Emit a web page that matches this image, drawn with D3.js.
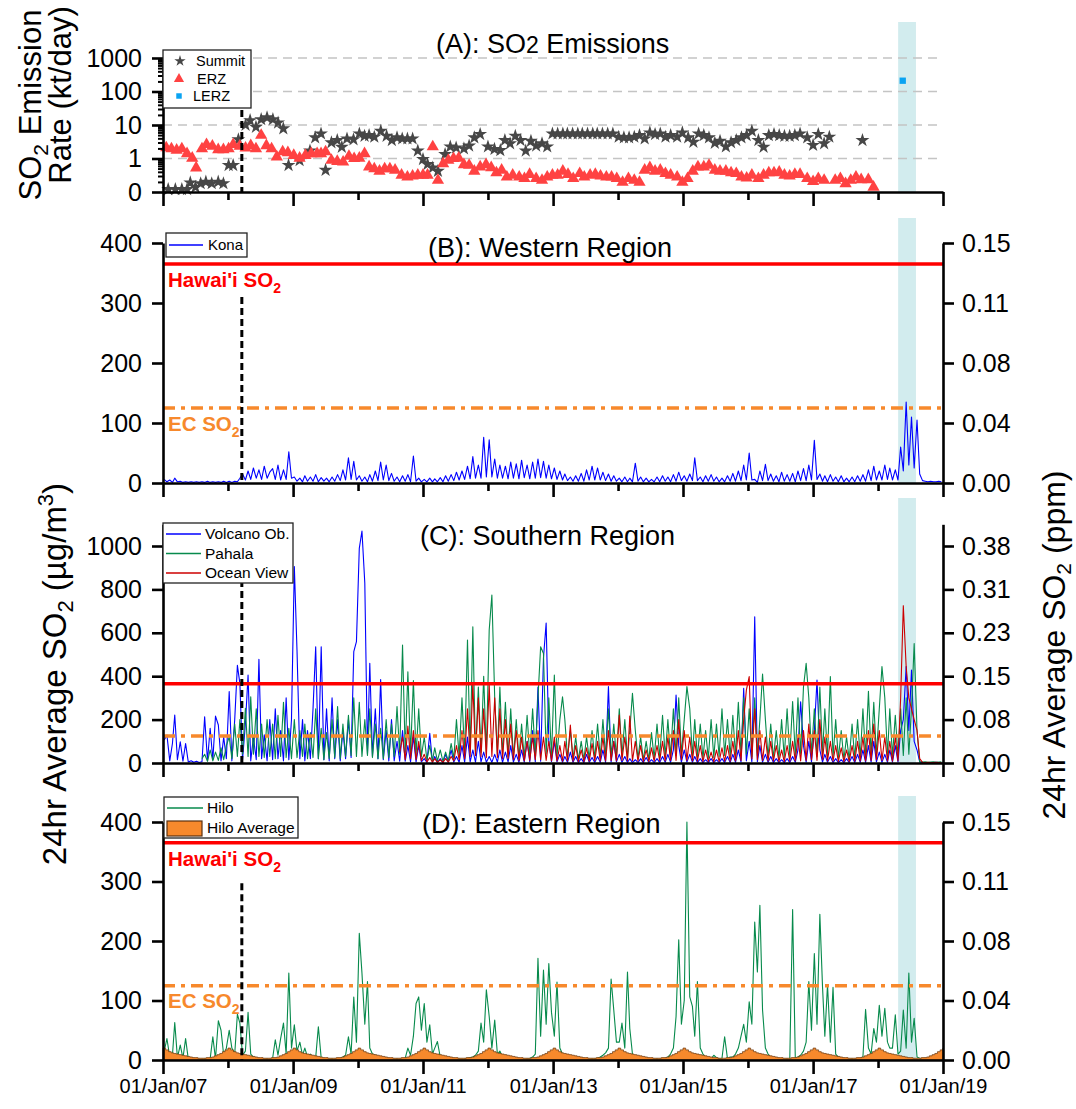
<!DOCTYPE html>
<html><head><meta charset="utf-8">
<script src="https://cdn.jsdelivr.net/npm/d3@7"></script>
<style>
body{margin:0;background:#fff}
text{font-family:"Liberation Sans",Arial,sans-serif}
</style></head>
<body><svg id="chart" width="1076" height="1109"></svg>
<script>
// ---------------- DATA ----------------
const xTickYears = [2007,2008,2009,2010,2011,2012,2013,2014,2015,2016,2017,2018,2019];
const xTickLabels = ["01/Jan/07","","01/Jan/09","","01/Jan/11","","01/Jan/13","","01/Jan/15","","01/Jan/17","","01/Jan/19"];
const emissionTicks = [0.1,1,10,100,1000];
const emissionLabels = ["0","1","10","100","1000"];
const conc400Ticks = [0,100,200,300,400];
const ppm400Labels = ["0.00","0.04","0.08","0.11","0.15"];
const conc1000Ticks = [0,200,400,600,800,1000];
const ppm1000Labels = ["0.00","0.08","0.15","0.23","0.31","0.38"];
const hawaiiStandard = 365;
const ecStandard = 125;
const eruptionStart = "2008-03-19";
const lerzPeriod = ["2018-04-24","2018-08-02"];

// Panel A: [decimal year, kt/day]
const summit = [[2007.08,0.12],[2007.19,0.12],[2007.29,0.12],[2007.37,0.12],[2007.42,0.19],[2007.50,0.14],[2007.58,0.18],[2007.66,0.2],[2007.75,0.18],[2007.85,0.2],[2007.93,0.18],
[2008.01,0.63],[2008.08,0.63],[2008.16,3.7],[2008.27,10],[2008.34,13.7],[2008.43,8.7],[2008.51,14.7],[2008.60,16.6],[2008.69,14.7],[2008.77,11.7],[2008.85,7.8],[2008.93,0.63],
[2009.10,0.88],[2009.26,1.7],[2009.34,4.2],[2009.43,5.5],[2009.50,0.45],[2009.59,3.0],[2009.68,3.5],[2009.75,2.2],[2009.83,3.9],[2009.93,3.7],
[2010.02,5.5],[2010.10,4.7],[2010.17,4.9],[2010.25,4.4],[2010.35,6.6],[2010.44,4.7],[2010.52,3.5],[2010.60,4.2],[2010.68,3.9],[2010.76,3.9],[2010.84,3.9],[2010.92,1.7],
[2011.00,0.95],[2011.07,0.67],[2011.15,0.53],[2011.23,0.42],[2011.34,1.33],[2011.42,2.25],[2011.51,2.1],[2011.63,1.97],[2011.71,2.4],[2011.79,4.2],[2011.88,5.3],
[2012.00,2.25],[2012.10,1.9],[2012.19,1.75],[2012.26,3.5],[2012.34,2.8],[2012.42,4.7],[2012.50,3.5],[2012.58,1.7],[2012.66,3.3],[2012.74,2.4],[2012.83,2.8],[2012.91,2.25],[2012.99,5.5],
[2013.07,5.5],[2013.15,5.5],[2013.22,5.5],[2013.30,5.5],[2013.38,5.5],[2013.45,5.5],[2013.53,5.5],[2013.61,5.5],[2013.68,5.5],[2013.76,5.5],[2013.84,5.5],[2013.92,5.5],
[2014.01,4.4],[2014.09,4.2],[2014.17,4.2],[2014.25,4.4],[2014.33,4.9],[2014.41,3.9],[2014.49,5.9],[2014.57,5.3],[2014.65,5.5],[2014.73,4.4],[2014.81,4.9],[2014.91,4.4],[2014.99,5.9],
[2015.08,4.2],[2015.16,3.1],[2015.24,5.5],[2015.32,4.9],[2015.40,4.2],[2015.49,2.9],[2015.57,3.3],[2015.66,2.25],[2015.74,3.0],[2015.82,3.5],[2015.90,4.2],[2015.98,4.9],
[2016.06,6.6],[2016.16,3.5],[2016.24,2.2],[2016.32,4.9],[2016.40,5.3],[2016.48,4.9],[2016.56,4.7],[2016.64,4.7],[2016.72,4.9],[2016.80,5.5],[2016.91,4.2],
[2017.00,2.5],[2017.08,5.3],[2017.17,2.8],[2017.25,4.4],[2017.76,3.5]];
const erz = [[2007.05,2.25],[2007.13,2.1],[2007.21,1.9],[2007.29,2.1],[2007.37,1.5],[2007.45,1.1],[2007.51,0.56],[2007.60,2.1],[2007.67,2.8],[2007.76,2.5],[2007.85,1.97],[2007.93,1.97],
[2008.01,2.1],[2008.08,2.8],[2008.18,2.5],[2008.27,2.2],[2008.35,2.6],[2008.43,2.1],[2008.51,5.3],[2008.59,2.6],[2008.67,2.1],[2008.75,1.2],[2008.84,1.7],[2008.92,1.6],
[2009.01,1.33],[2009.10,1.1],[2009.19,1.33],[2009.28,1.5],[2009.37,1.5],[2009.43,1.5],[2009.50,1.7],[2009.59,0.95],[2009.68,0.88],[2009.77,0.84],[2009.86,1.25],[2009.94,1.07],
[2010.02,1.1],[2010.10,1.5],[2010.17,0.6],[2010.25,0.53],[2010.33,0.45],[2010.41,0.53],[2010.49,0.53],[2010.57,0.48],[2010.67,0.34],[2010.76,0.3],[2010.84,0.32],[2010.92,0.34],
[2011.00,0.34],[2011.07,0.34],[2011.15,2.4],[2011.23,0.24],[2011.31,0.75],[2011.39,0.95],[2011.47,1.07],[2011.55,1.1],[2011.63,0.7],[2011.71,0.67],[2011.79,0.45],[2011.88,0.6],[2011.97,0.7],
[2012.05,0.57],[2012.13,0.4],[2012.21,0.48],[2012.29,0.3],[2012.38,0.34],[2012.48,0.3],[2012.56,0.27],[2012.64,0.36],[2012.74,0.27],[2012.83,0.24],[2012.91,0.3],[2012.99,0.34],
[2013.07,0.34],[2013.15,0.45],[2013.23,0.36],[2013.31,0.27],[2013.41,0.38],[2013.48,0.3],[2013.57,0.34],[2013.65,0.36],[2013.73,0.32],[2013.82,0.3],[2013.90,0.3],[2013.98,0.27],
[2014.07,0.21],[2014.16,0.27],[2014.25,0.24],[2014.33,0.21],[2014.41,0.48],[2014.49,0.57],[2014.57,0.45],[2014.65,0.48],[2014.73,0.38],[2014.81,0.34],[2014.91,0.3],[2014.99,0.21],
[2015.07,0.27],[2015.15,0.45],[2015.23,0.6],[2015.32,0.6],[2015.40,0.67],[2015.49,0.48],[2015.57,0.45],[2015.66,0.45],[2015.74,0.4],[2015.82,0.38],[2015.90,0.3],[2015.98,0.28],
[2016.06,0.34],[2016.16,0.27],[2016.24,0.34],[2016.32,0.4],[2016.40,0.4],[2016.48,0.42],[2016.56,0.34],[2016.64,0.32],[2016.72,0.36],[2016.80,0.36],[2016.91,0.27],
[2017.00,0.22],[2017.08,0.27],[2017.17,0.24],[2017.34,0.24],[2017.42,0.27],[2017.50,0.19],[2017.58,0.24],[2017.66,0.3],[2017.74,0.25],[2017.85,0.25],[2017.93,0.15]];
const lerz = [[2018.38,210]];

// Panels B-D: semi-monthly 24hr SO2 (ug/m3) peaks/troughs, one row per year
const konaStart = 2007;
const kona = [
[6,2,5,1,8,2,3,1,2,1,2,1,2,1,2,1,3,1,2,1,2,1,3,1],
[3,1,3,2,8,15,5,20,6,25,8,22,6,28,8,18,24,6,30,5,22,6,52,8],
[10,3,8,2,12,3,10,3,14,2,9,3,8,2,10,3,14,4,22,5,42,6,36,5],
[12,3,10,2,14,3,20,4,35,5,30,4,16,3,10,2,12,3,14,2,45,3,8,2],
[6,2,8,2,7,2,9,2,12,3,14,4,18,5,20,6,28,7,44,8,30,8,76,10],
[72,10,40,8,30,8,28,7,35,8,32,7,38,9,30,7,35,8,40,9,36,8,30,7],
[25,6,20,5,15,4,10,3,12,3,16,3,22,5,28,5,25,5,18,4,15,3,12,3],
[8,2,10,2,8,2,33,3,10,2,8,2,6,2,10,2,12,3,10,2,14,3,18,4],
[12,3,15,4,42,4,10,2,12,3,14,3,10,2,8,2,12,3,16,3,20,4,30,5],
[50,5,6,1,20,4,31,4,15,3,12,2,18,3,14,3,16,2,20,4,24,4,30,5],
[71,6,15,3,12,2,14,3,10,2,12,2,8,2,10,2,12,3,14,3,22,4,28,5],
[20,5,30,6,25,5,22,5,60,20,135,30,110,25,105,15,4,3,2,3,2,2,3,2]];

const volcanoObStart = 2007;
const volcanoOb = [
[106,129,10,90,221,15,98,8,90,5,10,3,8,2,6,213,10,160,15,216,175,10,120,20],
[329,10,200,450,367,15,180,405,10,120,15,478,20,130,10,200,15,250,20,150,10,300,15,200],
[905,520,20,200,10,150,20,250,536,20,536,15,250,10,300,20,200,10,150,20,200,25,513,559],
[989,1069,828,40,460,30,250,20,385,15,150,10,200,10,100,8,150,8,80,5,120,5,80,5],
[20,3,137,4,30,3,20,2,40,3,60,4,30,3,80,4,120,5,60,4,100,5,50,4],
[30,3,40,4,60,3,50,5,80,4,40,3,60,4,100,5,150,6,350,8,485,645,100,6],
[100,5,40,3,30,3,50,3,30,2,20,2,40,3,25,2,30,3,60,3,352,4,100,5],
[40,3,30,2,20,2,15,2,20,2,25,2,15,2,20,2,30,3,40,3,60,313,80,4],
[60,4,40,3,30,2,20,2,15,2,20,2,15,2,20,2,30,2,40,3,60,4,344,10],
[100,5,674,6,80,4,40,3,30,2,20,2,15,2,20,2,30,3,60,282,80,4,100,5],
[150,382,60,4,40,3,30,2,20,2,15,2,20,2,30,2,40,3,60,3,80,4,100,5],
[50,3,40,3,60,4,80,5,150,200,444,150,428,100,60,5,3,2,2,2,2,3,2,2]];

const pahalaStart = 2007;
const pahala = [
[null,null,null,null,null,null,null,null,null,null,null,null,null,null,20,40,8,60,10,50,12,70,15,80],
[120,20,180,30,200,40,252,30,305,40,250,30,180,25,200,30,180,20,220,30,280,25,160,20],
[200,25,150,30,180,20,140,25,250,20,160,15,140,20,200,25,260,20,180,30,220,35,300,30],
[280,30,200,35,250,25,180,20,160,20,200,25,180,30,260,40,544,50,420,40,380,35,250,30],
[120,15,80,10,70,10,60,8,50,10,90,20,200,30,300,40,567,50,628,40,350,50,400,40],
[613,774,300,40,350,35,280,30,250,25,200,20,180,20,220,30,250,35,300,536,505,40,300,30],
[405,30,200,305,200,25,150,20,120,15,100,15,120,20,150,20,180,25,200,30,250,30,180,25],
[250,30,200,20,150,321,150,20,120,15,100,15,140,20,180,25,220,30,200,30,250,35,300,40],
[200,352,250,30,200,25,180,20,150,20,200,25,180,30,250,35,200,30,220,35,280,40,300,40],
[250,30,300,35,200,410,200,25,180,20,150,20,200,25,250,30,283,35,300,40,350,459,300,40],
[250,30,350,40,250,30,398,25,200,20,150,15,120,15,180,20,200,25,250,30,330,35,280,35],
[250,444,300,35,250,30,220,30,250,35,300,40,250,551,150,5,4,5,3,4,5,3,4,5]];

const oceanViewStart = 2010;
const oceanView = [
[null,null,null,null,null,null,null,null,null,null,null,null,null,null,null,50,120,15,170,20,150,15,100,10],
[40,5,25,4,20,3,15,3,20,4,30,10,80,15,150,20,250,30,367,35,300,30,250,25],
[360,30,300,25,250,20,200,20,180,15,150,12,120,10,100,12,120,15,150,15,120,12,100,10],
[120,10,80,8,100,10,175,8,80,6,60,6,70,8,90,10,100,10,120,10,150,12,100,10],
[221,12,120,10,216,10,100,8,80,6,60,6,70,8,80,10,100,10,120,12,150,12,200,15],
[150,12,120,10,100,8,80,6,60,6,50,5,60,6,70,8,80,8,100,10,150,12,200,336],
[398,20,250,15,150,12,120,10,100,8,80,6,60,6,80,8,100,10,120,10,150,12,180,15],
[150,12,200,15,120,10,100,8,80,6,70,6,60,6,80,8,100,10,120,10,150,12,180,15],
[150,12,120,10,100,8,120,10,300,725,444,300,250,200,150,20,3,2,3,2,2,3,2,2]];

const hiloStart = 2007;
const hilo = [
[15,36,5,8,63,4,25,3,36,2,3,1,2,1,1,2,1,2,39,2,66,50,8,20],
[50,20,10,77,62,8,15,80,10,5,3,2,1,1,2,1,3,34,8,36,62,10,146,20],
[59,15,30,8,20,5,10,3,4,56,3,2,1,1,2,1,2,3,5,8,39,10,106,30],
[213,146,60,132,20,10,8,5,4,3,2,2,1,1,2,1,2,3,20,8,40,95,106,50],
[95,30,59,10,20,31,5,3,2,2,1,1,1,2,1,2,3,4,5,8,15,62,30,118],
[73,20,67,10,15,5,8,3,2,2,1,1,2,1,2,3,5,10,171,40,151,60,162,80],
[40,131,20,10,5,3,2,2,1,1,1,2,1,1,2,2,3,5,8,12,20,136,84,30],
[30,62,20,148,53,10,5,4,3,2,2,1,1,1,2,1,2,3,5,10,20,73,202,60],
[100,400,106,90,40,132,20,10,5,3,2,8,4,2,3,39,2,5,5,10,20,40,60,30],
[98,60,232,148,260,84,20,10,5,3,2,2,1,1,2,1,253,3,5,8,15,30,132,50],
[179,60,245,123,40,126,30,122,10,5,3,2,1,1,2,1,2,3,5,85,20,10,53,30],
[92,40,87,30,20,20,76,10,15,84,20,146,30,70,5,3,2,3,2,3,3,4,5,6]];
// Hilo multi-year semi-monthly average (seasonal climatology), drawn for each year
const hiloAverageSeason = [20,17,14,12,11,10,9,8,7,6,5,4,4,3,3,3,4,4,5,7,9,11,14,17];
const hiloAverageYears = [2007,2008,2009,2010,2011,2012,2013,2014,2015,2016,2017,2018];

// ---------------- HELPERS ----------------
const svg = d3.select("#chart");
const FONT = '"Liberation Sans",Arial,sans-serif';
const decYear = v => { const y = Math.floor(v); const s = new Date(y,0,1), e = new Date(y+1,0,1); return new Date(+s + (v-y)*(e-s)); };
const semiMonthly = (rows, start) => {
  const out = [];
  rows.forEach((row,k) => row.forEach((v,i) => out.push({date: new Date(start+k, i>>1, i%2 ? 23 : 8), v})));
  return out;
};
const x = d3.scaleTime().domain([new Date(2007,0,1), new Date(2019,0,1)]).range([163, 943]);

const COL = {band:"#d2ecee", red:"#ff0000", orange:"#f7892c", blue:"#0000ff", green:"#078a4c", dred:"#cc0000", grid:"#c4c4c4"};

function band(top, bottom){
  svg.append("rect").attr("x", x(new Date(lerzPeriod[0]))).attr("y", top)
    .attr("width", x(new Date(lerzPeriod[1])) - x(new Date(lerzPeriod[0]))).attr("height", bottom - top)
    .attr("fill", COL.band);
}
function xAxis(yPos, labels){
  const ax = d3.axisBottom(x).tickValues(xTickYears.map(y => new Date(y,0,1)))
    .tickSize(14).tickSizeOuter(0).tickPadding(5)
    .tickFormat((d,i) => labels ? xTickLabels[i] : "");
  const g = svg.append("g").attr("transform", `translate(0,${yPos})`).call(ax);
  g.select(".domain").attr("stroke-width", 2.6);
  g.selectAll(".tick line").attr("stroke-width", 2.6).attr("y2", (d,i) => i % 2 ? 8 : 14);
  g.selectAll(".tick text").attr("font-size", 20).attr("font-family", FONT).attr("fill","#000");
}
function yLeft(y, ticks, labels){
  const g = svg.append("g").attr("transform", "translate(163,0)")
    .call(d3.axisLeft(y).tickValues(ticks).tickSize(11).tickPadding(10).tickSizeOuter(0).tickFormat((d,i) => labels[i]));
  g.select(".domain").attr("stroke-width", 2.6);
  g.selectAll(".tick line").attr("stroke-width", 2.6);
  g.selectAll(".tick text").attr("font-size", 25).attr("font-family", FONT).attr("fill","#000");
  return g;
}
function yRight(y, ticks, labels){
  const g = svg.append("g").attr("transform", "translate(943,0)")
    .call(d3.axisRight(y).tickValues(ticks).tickSize(11).tickPadding(8).tickSizeOuter(0).tickFormat((d,i) => labels[i]));
  g.select(".domain").attr("stroke-width", 2.6);
  g.selectAll(".tick line").attr("stroke-width", 2.6);
  g.selectAll(".tick text").attr("font-size", 25).attr("font-family", FONT).attr("fill","#000");
}
function standards(y, withText, hawaiiBase, ecBase){
  svg.append("line").attr("x1",163).attr("x2",943).attr("y1",y(hawaiiStandard)).attr("y2",y(hawaiiStandard))
    .attr("stroke",COL.red).attr("stroke-width",3.5);
  svg.append("line").attr("x1",163).attr("x2",943).attr("y1",y(ecStandard)).attr("y2",y(ecStandard))
    .attr("stroke",COL.orange).attr("stroke-width",3.5).attr("stroke-dasharray","12,6,4,6");
  if(withText){
    const t1 = svg.append("text").attr("x",168).attr("y",hawaiiBase).attr("font-size",20.5).attr("font-weight","bold").attr("fill",COL.red);
    t1.append("tspan").text("Hawai'i SO");
    t1.append("tspan").attr("dy",6).attr("font-size",14).text("2");
    const t2 = svg.append("text").attr("x",168).attr("y",ecBase).attr("font-size",20.5).attr("font-weight","bold").attr("fill",COL.orange);
    t2.append("tspan").text("EC SO");
    t2.append("tspan").attr("dy",6).attr("font-size",14).text("2");
  }
}
function eruptionLine(y, top, bottom){
  const xe = x(new Date(eruptionStart));
  svg.append("line").attr("x1",xe).attr("x2",xe).attr("y1",y(top)).attr("y2",y(bottom))
    .attr("stroke","#000").attr("stroke-width",3).attr("stroke-dasharray","7,4");
}
function title(tx, ty, parts){
  const t = svg.append("text").attr("x",tx).attr("y",ty).attr("font-size",27).attr("fill","#000");
  parts.forEach(p => t.append("tspan").attr("font-size", p[1] || 27).text(p[0]));
}
function drawLine(data, y, color, width){
  svg.append("path").datum(data).attr("fill","none").attr("stroke",color).attr("stroke-width",width||1)
    .attr("stroke-linejoin","round")
    .attr("d", d3.line().defined(d => d.v != null).x(d => x(d.date)).y(d => y(d.v)));
}
function legendBox(x0,y0,w,h){
  svg.append("rect").attr("x",x0).attr("y",y0).attr("width",w).attr("height",h)
    .attr("fill","#fff").attr("stroke","#222").attr("stroke-width",1.3);
}
function legendText(tx,ty,str,size){
  svg.append("text").attr("x",tx).attr("y",ty).attr("dy","0.35em").attr("font-size",size||15.5).attr("fill","#000").text(str);
}

// ---------------- PANEL A ----------------
const yA = d3.scaleLog().domain([0.1,1000]).range([192,58]);
band(22,192);
[1,10,100,1000].forEach(v => svg.append("line").attr("x1",163).attr("x2",943).attr("y1",yA(v)).attr("y2",yA(v))
  .attr("stroke",COL.grid).attr("stroke-width",1.5).attr("stroke-dasharray","9,6"));
svg.append("g").selectAll("path.summit").data(summit).join("path")
  .attr("transform", d => `translate(${x(decYear(d[0]))},${yA(d[1])})`)
  .attr("d", d3.symbol().type(d3.symbolStar).size(60)).attr("fill","#474747");
svg.append("g").selectAll("path.erz").data(erz).join("path")
  .attr("transform", d => `translate(${x(decYear(d[0]))},${yA(d[1])+1})`)
  .attr("d", d3.symbol().type(d3.symbolTriangle).size(65)).attr("fill","#ff4242");
svg.append("g").selectAll("path.lerz").data(lerz).join("path")
  .attr("transform", d => `translate(${x(decYear(d[0]))},${yA(d[1])})`)
  .attr("d", d3.symbol().type(d3.symbolSquare).size(40)).attr("fill","#0aa3f2");
eruptionLine(yA, 28, 0.1);
const minorA = [];
[0.1,1,10,100].forEach(b => d3.range(2,10).forEach(m => minorA.push(b*m)));
svg.append("g").attr("transform","translate(163,0)")
  .call(d3.axisLeft(yA).tickValues(minorA).tickSize(5).tickFormat("").tickSizeOuter(0))
  .call(g => { g.select(".domain").remove(); g.selectAll(".tick line").attr("stroke-width",2); });
yLeft(yA, emissionTicks, emissionLabels);
xAxis(192, false);
title(436, 53, [["(A): SO"],["2",23],[" Emissions"]]);
legendBox(163,50,88,58);
svg.append("path").attr("transform","translate(180,61)").attr("d",d3.symbol().type(d3.symbolStar).size(40)).attr("fill","#474747");
legendText(196,61,"Summit",14.5);
svg.append("path").attr("transform","translate(179,79)").attr("d",d3.symbol().type(d3.symbolTriangle).size(45)).attr("fill","#ff4242");
legendText(197,79,"ERZ",14.5);
svg.append("path").attr("transform","translate(179,96)").attr("d",d3.symbol().type(d3.symbolSquare).size(30)).attr("fill","#0aa3f2");
legendText(193,96,"LERZ",14.5);

// ---------------- PANEL B ----------------
const yB = d3.scaleLinear().domain([0,400]).range([483,243]);
band(218,483);
drawLine(semiMonthly(kona, konaStart), yB, COL.blue, 1.1);
standards(yB, true, 287, 431);
eruptionLine(yB, 310, 0);
yLeft(yB, conc400Ticks, conc400Ticks.map(String));
yRight(yB, conc400Ticks, ppm400Labels);
xAxis(483, false);
title(428, 257, [["(B): Western Region"]]);
legendBox(166,233,81,24);
svg.append("line").attr("x1",169).attr("x2",203).attr("y1",245).attr("y2",245).attr("stroke",COL.blue).attr("stroke-width",1.3);
legendText(208,245,"Kona",15);

// ---------------- PANEL C ----------------
const yC = d3.scaleLinear().domain([0,1100]).range([763,524.3]);
band(498,763);
drawLine(semiMonthly(volcanoOb, volcanoObStart), yC, COL.blue, 1.1);
drawLine(semiMonthly(pahala, pahalaStart), yC, COL.green, 1.1);
drawLine(semiMonthly(oceanView, oceanViewStart), yC, COL.dred, 1.1);
standards(yC, false);
eruptionLine(yC, 843, 0);
yLeft(yC, conc1000Ticks, conc1000Ticks.map(String));
yRight(yC, conc1000Ticks, ppm1000Labels);
xAxis(763, false);
title(420, 545, [["(C): Southern Region"]]);
legendBox(163,523,130,60);
[["Volcano Ob.",COL.blue],["Pahala",COL.green],["Ocean View",COL.dred]].forEach((e,i) => {
  const yy = 534 + i*19.5;
  svg.append("line").attr("x1",166).attr("x2",201).attr("y1",yy).attr("y2",yy).attr("stroke",e[1]).attr("stroke-width",1.3);
  legendText(205,yy,e[0],15.5);
});

// ---------------- PANEL D ----------------
const yD = d3.scaleLinear().domain([0,400]).range([1060,822]);
band(796,1060);
drawLine(semiMonthly(hilo, hiloStart), yD, COL.green, 1.1);
const hiloAvg = [];
hiloAverageYears.forEach(yr => hiloAverageSeason.forEach((v,i) => hiloAvg.push({date:new Date(yr, i>>1, i%2 ? 16 : 1), v})));
hiloAvg.push({date:new Date(2019,0,1), v:hiloAverageSeason[0]});
svg.append("path").datum(hiloAvg).attr("fill",COL.orange).attr("stroke","#7a4416").attr("stroke-width",0.8)
  .attr("d", d3.area().curve(d3.curveStepAfter).x(d => x(d.date)).y0(yD(0)).y1(d => yD(d.v)));
standards(yD, true, 866, 1008);
eruptionLine(yD, 297, 0);
yLeft(yD, conc400Ticks, conc400Ticks.map(String));
yRight(yD, conc400Ticks, ppm400Labels);
xAxis(1060, true);
title(422, 833, [["(D): Eastern Region"]]);
legendBox(164,797,134,41);
svg.append("line").attr("x1",167).attr("x2",203).attr("y1",808).attr("y2",808).attr("stroke",COL.green).attr("stroke-width",1.3);
legendText(207,808,"Hilo",15.5);
svg.append("rect").attr("x",167).attr("y",821).attr("width",35).attr("height",15).attr("fill",COL.orange).attr("stroke","#5a3010").attr("stroke-width",1.2);
legendText(207,828,"Hilo Average",15.5);

// ---------------- AXIS TITLES ----------------
const tA1 = svg.append("text").attr("transform","translate(41,105) rotate(-90)").attr("text-anchor","middle").attr("font-size",31);
tA1.append("tspan").text("SO");
tA1.append("tspan").attr("dy",7).attr("font-size",21).text("2");
tA1.append("tspan").attr("dy",-7).text(" Emission");
svg.append("text").attr("transform","translate(71,95) rotate(-90)").attr("text-anchor","middle").attr("font-size",31).text("Rate (kt/day)");

const tL = svg.append("text").attr("transform","translate(66,674) rotate(-90)").attr("text-anchor","middle").attr("font-size",33);
tL.append("tspan").text("24hr Average SO");
tL.append("tspan").attr("dy",7).attr("font-size",22).text("2");
tL.append("tspan").attr("dy",-7).text(" (\u00b5g/m");
tL.append("tspan").attr("dy",-13).attr("font-size",22).text("3");
tL.append("tspan").attr("dy",13).text(")");

const tR = svg.append("text").attr("transform","translate(1065,645) rotate(-90)").attr("text-anchor","middle").attr("font-size",32);
tR.append("tspan").text("24hr Average SO");
tR.append("tspan").attr("dy",6).attr("font-size",21).text("2");
tR.append("tspan").attr("dy",-6).text(" (ppm)");
</script></body></html>
